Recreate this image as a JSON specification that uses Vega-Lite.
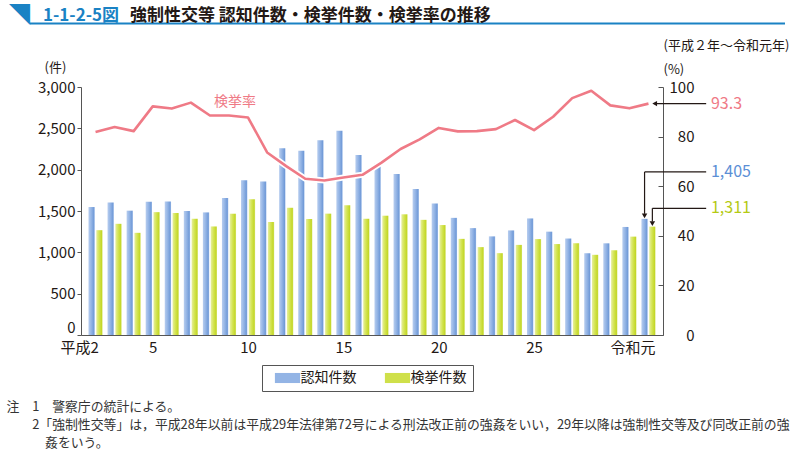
{
  "$schema": "https://vega.github.io/schema/vega-lite/v6.json",
  "width": 582,
  "height": 248,
  "autosize": {"type": "none"},
  "padding": {"left": 81, "top": 87, "right": 127, "bottom": 117},
  "background": "white",
  "config": {
    "view": {"stroke": null},
    "font": "Noto Sans CJK JP"
  },
  "title": {
    "text": "強制性交等 認知件数・検挙件数・検挙率の推移",
    "anchor": "start",
    "frame": "group",
    "dx": 49,
    "offset": -19.5,
    "font": "Noto Sans CJK JP",
    "fontSize": 17,
    "fontWeight": "bold",
    "color": "#231815"
  },
  "data": {
    "values": [
      {"year": 2, "series": "認知件数", "value": 1548},
      {"year": 3, "series": "認知件数", "value": 1603},
      {"year": 4, "series": "認知件数", "value": 1504},
      {"year": 5, "series": "認知件数", "value": 1611},
      {"year": 6, "series": "認知件数", "value": 1616},
      {"year": 7, "series": "認知件数", "value": 1500},
      {"year": 8, "series": "認知件数", "value": 1483},
      {"year": 9, "series": "認知件数", "value": 1657},
      {"year": 10, "series": "認知件数", "value": 1873},
      {"year": 11, "series": "認知件数", "value": 1857},
      {"year": 12, "series": "認知件数", "value": 2260},
      {"year": 13, "series": "認知件数", "value": 2228},
      {"year": 14, "series": "認知件数", "value": 2357},
      {"year": 15, "series": "認知件数", "value": 2472},
      {"year": 16, "series": "認知件数", "value": 2176},
      {"year": 17, "series": "認知件数", "value": 2076},
      {"year": 18, "series": "認知件数", "value": 1948},
      {"year": 19, "series": "認知件数", "value": 1766},
      {"year": 20, "series": "認知件数", "value": 1592},
      {"year": 21, "series": "認知件数", "value": 1417},
      {"year": 22, "series": "認知件数", "value": 1293},
      {"year": 23, "series": "認知件数", "value": 1193},
      {"year": 24, "series": "認知件数", "value": 1265},
      {"year": 25, "series": "認知件数", "value": 1410},
      {"year": 26, "series": "認知件数", "value": 1250},
      {"year": 27, "series": "認知件数", "value": 1167},
      {"year": 28, "series": "認知件数", "value": 989},
      {"year": 29, "series": "認知件数", "value": 1109},
      {"year": 30, "series": "認知件数", "value": 1307},
      {"year": 31, "series": "認知件数", "value": 1405},
      {"year": 2, "series": "検挙件数", "value": 1268},
      {"year": 3, "series": "検挙件数", "value": 1345},
      {"year": 4, "series": "検挙件数", "value": 1236},
      {"year": 5, "series": "検挙件数", "value": 1486},
      {"year": 6, "series": "検挙件数", "value": 1476},
      {"year": 7, "series": "検挙件数", "value": 1406},
      {"year": 8, "series": "検挙件数", "value": 1313},
      {"year": 9, "series": "検挙件数", "value": 1467},
      {"year": 10, "series": "検挙件数", "value": 1643},
      {"year": 11, "series": "検挙件数", "value": 1367},
      {"year": 12, "series": "検挙件数", "value": 1539},
      {"year": 13, "series": "検挙件数", "value": 1403},
      {"year": 14, "series": "検挙件数", "value": 1468},
      {"year": 15, "series": "検挙件数", "value": 1569},
      {"year": 16, "series": "検挙件数", "value": 1406},
      {"year": 17, "series": "検挙件数", "value": 1443},
      {"year": 18, "series": "検挙件数", "value": 1460},
      {"year": 19, "series": "検挙件数", "value": 1393},
      {"year": 20, "series": "検挙件数", "value": 1330},
      {"year": 21, "series": "検挙件数", "value": 1163},
      {"year": 22, "series": "検挙件数", "value": 1063},
      {"year": 23, "series": "検挙件数", "value": 990},
      {"year": 24, "series": "検挙件数", "value": 1090},
      {"year": 25, "series": "検挙件数", "value": 1160},
      {"year": 26, "series": "検挙件数", "value": 1100},
      {"year": 27, "series": "検挙件数", "value": 1110},
      {"year": 28, "series": "検挙件数", "value": 970},
      {"year": 29, "series": "検挙件数", "value": 1025},
      {"year": 30, "series": "検挙件数", "value": 1190},
      {"year": 31, "series": "検挙件数", "value": 1311},
      {"year": 2, "series": "検挙率", "value": 81.9},
      {"year": 3, "series": "検挙率", "value": 83.9},
      {"year": 4, "series": "検挙率", "value": 82.2},
      {"year": 5, "series": "検挙率", "value": 92.2},
      {"year": 6, "series": "検挙率", "value": 91.3},
      {"year": 7, "series": "検挙率", "value": 93.7},
      {"year": 8, "series": "検挙率", "value": 88.5},
      {"year": 9, "series": "検挙率", "value": 88.5},
      {"year": 10, "series": "検挙率", "value": 87.7},
      {"year": 11, "series": "検挙率", "value": 73.6},
      {"year": 12, "series": "検挙率", "value": 68.1},
      {"year": 13, "series": "検挙率", "value": 63.0},
      {"year": 14, "series": "検挙率", "value": 62.3},
      {"year": 15, "series": "検挙率", "value": 63.5},
      {"year": 16, "series": "検挙率", "value": 64.6},
      {"year": 17, "series": "検挙率", "value": 69.5},
      {"year": 18, "series": "検挙率", "value": 75.0},
      {"year": 19, "series": "検挙率", "value": 78.9},
      {"year": 20, "series": "検挙率", "value": 83.5},
      {"year": 21, "series": "検挙率", "value": 82.1},
      {"year": 22, "series": "検挙率", "value": 82.2},
      {"year": 23, "series": "検挙率", "value": 83.0},
      {"year": 24, "series": "検挙率", "value": 86.7},
      {"year": 25, "series": "検挙率", "value": 82.6},
      {"year": 26, "series": "検挙率", "value": 88.0},
      {"year": 27, "series": "検挙率", "value": 95.5},
      {"year": 28, "series": "検挙率", "value": 98.5},
      {"year": 29, "series": "検挙率", "value": 92.6},
      {"year": 30, "series": "検挙率", "value": 91.4},
      {"year": 31, "series": "検挙率", "value": 93.3}
    ]
  },
  "encoding": {
    "x": {
      "field": "year",
      "type": "quantitative",
      "scale": {"domain": [1.5, 31.5], "nice": false, "zero": false},
      "axis": {
        "values": [2.15, 5, 10, 15, 20, 25, 31.35],
        "labelExpr": "datum.value < 3 ? '平成2' : datum.value > 31 ? '令和元' : datum.label",
        "labelAlign": {"condition": {"test": "datum.value < 3 || datum.value > 31", "value": "right"}, "value": "center"},
        "grid": false,
        "ticks": false,
        "domainColor": "#555555",
        "labelFontSize": 15,
        "labelColor": "#231815",
        "labelPadding": 5,
        "title": [
          "注　1　警察庁の統計による。",
          "​　　2「強制性交等」は，平成28年以前は平成29年法律第72号による刑法改正前の強姦をいい，29年以降は強制性交等及び同改正前の強",
          "​　　　姦をいう。"
        ],
        "titleX": -75,
        "titleY": 65.5,
        "titleAnchor": "start",
        "titleAlign": "left",
        "titleBaseline": "top",
        "titleFontSize": 12.85,
        "titleFontWeight": "normal",
        "titleLineHeight": 18,
        "titleColor": "#333333"
      }
    }
  },
  "layer": [
    {
      "encoding": {
        "y": {
          "field": "value",
          "type": "quantitative",
          "stack": null,
          "scale": {"domain": [0, 3000], "nice": false},
          "axis": {
            "values": [0, 500, 1000, 1500, 2000, 2500, 3000],
            "labelExpr": "format(datum.value, ',')",
            "labelBaseline": {"condition": {"test": "datum.value == 0", "value": "bottom"}, "value": "middle"},
            "grid": false,
            "tickSize": 4,
            "tickColor": "#555555",
            "domainColor": "#555555",
            "labelFontSize": 15,
            "labelColor": "#231815",
            "labelPadding": 2,
            "title": "(件)",
            "titleAngle": 0,
            "titleX": -37,
            "titleY": -15.5,
            "titleAlign": "left",
            "titleBaseline": "alphabetic",
            "titleFontSize": 13,
            "titleFontWeight": "normal",
            "titleColor": "#231815"
          }
        }
      },
      "layer": [
        {
          "transform": [{"filter": "datum.year < 0"}],
          "mark": {"type": "bar", "orient": "vertical", "width": 6.3},
          "encoding": {
            "color": {
              "field": "series",
              "type": "nominal",
              "scale": {
                "domain": ["認知件数", "検挙件数"],
                "range": ["#93b4e5", "#cfe04a"]
              },
              "legend": {
                "orient": "none",
                "legendX": 181,
                "legendY": 278,
                "direction": "horizontal",
                "title": null,
                "strokeColor": "#555555",
                "padding": 6,
                "symbolType": "M-1.8,-0.72H1.8V0.72H-1.8Z",
                "symbolSize": 196,
                "symbolOffset": 12.5,
                "symbolStrokeWidth": 0,
                "labelOffset": 6,
                "labelFontSize": 14,
                "labelColor": "#231815",
                "columnPadding": 21
              }
            }
          }
        },
        {
          "transform": [{"filter": "datum.year == 2 && datum.series == '認知件数'"}],
          "mark": {"type": "rule", "color": "#1a82c4", "strokeWidth": 2, "xOffset": -56, "x2Offset": 127, "yOffset": -63.5},
          "encoding": {"x": {"datum": 1.5}, "x2": {"datum": 31.5}, "y": {"datum": 3000}}
        },
        {
          "transform": [{"filter": "datum.year == 2 && datum.series == '認知件数'"}],
          "mark": {"type": "text", "text": "◥", "align": "left", "baseline": "middle", "dx": -77, "dy": -71, "fontSize": 21, "color": "#1a82c4"},
          "encoding": {"x": {"datum": 1.5}, "y": {"datum": 3000}}
        },
        {
          "transform": [{"filter": "datum.year == 2 && datum.series == '認知件数'"}],
          "mark": {"type": "text", "text": "1-1-2-5図", "align": "left", "baseline": "middle", "dx": -43, "dy": -71.5, "fontSize": 17, "fontWeight": "bold", "color": "#1a82c4"},
          "encoding": {"x": {"datum": 1.5}, "y": {"datum": 3000}}
        },
        {
          "transform": [{"filter": "datum.series == '認知件数'"}],
          "mark": {
            "type": "bar", "orient": "vertical", "width": 6.3, "xOffset": -3.9,
            "color": {"gradient": "linear", "x1": 0, "y1": 0, "x2": 1, "y2": 0, "stops": [{"offset": 0, "color": "#b7cdef"}, {"offset": 0.45, "color": "#93b4e5"}, {"offset": 0.85, "color": "#729bd8"}, {"offset": 1, "color": "#9fbde9"}]}
          },
          "encoding": {}
        },
        {
          "transform": [{"filter": "datum.series == '検挙件数'"}],
          "mark": {
            "type": "bar", "orient": "vertical", "width": 6.3, "xOffset": 3.9,
            "color": {"gradient": "linear", "x1": 0, "y1": 0, "x2": 1, "y2": 0, "stops": [{"offset": 0, "color": "#e6ef9e"}, {"offset": 0.45, "color": "#d4e453"}, {"offset": 0.85, "color": "#c3d728"}, {"offset": 1, "color": "#dbe77c"}]}
          },
          "encoding": {}
        },
        {
          "transform": [{"filter": "datum.year == 31 && datum.series == '認知件数'"}],
          "mark": {"type": "rule", "color": "#231815", "strokeWidth": 1.2, "xOffset": -3.9, "yOffset": -5, "y2Offset": -46.9},
          "encoding": {"y2": {"field": "value"}}
        },
        {
          "transform": [{"filter": "datum.year == 31 && datum.series == '認知件数'"}],
          "mark": {"type": "rule", "color": "#231815", "strokeWidth": 1.2, "xOffset": -3.9, "x2Offset": 57.7, "yOffset": -46.9},
          "encoding": {"x2": {"field": "year"}}
        },
        {
          "transform": [{"filter": "datum.year == 31 && datum.series == '認知件数'"}],
          "mark": {"type": "point", "shape": "triangle-down", "filled": true, "opacity": 1, "size": 30, "color": "#231815", "xOffset": -3.9, "yOffset": -3},
          "encoding": {}
        },
        {
          "transform": [{"filter": "datum.year == 31 && datum.series == '認知件数'"}],
          "mark": {"type": "text", "align": "left", "baseline": "middle", "dx": 62.5, "dy": -46.9, "fontSize": 16, "color": "#5b8fd6"},
          "encoding": {"text": {"field": "value", "format": ","}}
        },
        {
          "transform": [{"filter": "datum.year == 31 && datum.series == '検挙件数'"}],
          "mark": {"type": "rule", "color": "#231815", "strokeWidth": 1.2, "xOffset": 3.9, "yOffset": -5, "y2Offset": -18.3},
          "encoding": {"y2": {"field": "value"}}
        },
        {
          "transform": [{"filter": "datum.year == 31 && datum.series == '検挙件数'"}],
          "mark": {"type": "rule", "color": "#231815", "strokeWidth": 1.2, "xOffset": 3.9, "x2Offset": 57.7, "yOffset": -18.3},
          "encoding": {"x2": {"field": "year"}}
        },
        {
          "transform": [{"filter": "datum.year == 31 && datum.series == '検挙件数'"}],
          "mark": {"type": "point", "shape": "triangle-down", "filled": true, "opacity": 1, "size": 30, "color": "#231815", "xOffset": 3.9, "yOffset": -3},
          "encoding": {}
        },
        {
          "transform": [{"filter": "datum.year == 31 && datum.series == '検挙件数'"}],
          "mark": {"type": "text", "align": "left", "baseline": "middle", "dx": 62.5, "dy": -18.3, "fontSize": 16, "color": "#b4ca14"},
          "encoding": {"text": {"field": "value", "format": ","}}
        }
      ]
    },
    {
      "transform": [{"filter": "datum.series == '検挙率'"}],
      "encoding": {
        "y": {
          "field": "value",
          "type": "quantitative",
          "scale": {"domain": [0, 100], "nice": false},
          "axis": {
            "orient": "right",
            "values": [0, 20, 40, 60, 80, 100],
            "grid": false,
            "tickSize": -5,
            "tickColor": "#555555",
            "domainColor": "#555555",
            "labelFontSize": 15,
            "labelColor": "#231815",
            "labelAlign": "right",
            "labelPadding": 36,
            "title": ["(平成２年～令和元年)", " (%)"],
            "titleAngle": 0,
            "titleX": 0,
            "titleY": -38,
            "titleAlign": "left",
            "titleBaseline": "alphabetic",
            "titleFontSize": 13,
            "titleFontWeight": "normal",
            "titleLineHeight": 24,
            "titleColor": "#231815"
          }
        }
      },
      "layer": [
        {
          "mark": {"type": "line", "color": "white", "strokeWidth": 6, "strokeJoin": "round"},
          "encoding": {}
        },
        {
          "mark": {"type": "line", "color": "#ef7a86", "strokeWidth": 2.6, "strokeJoin": "round"},
          "encoding": {}
        },
        {
          "transform": [{"filter": "datum.year == 9"}],
          "mark": {"type": "text", "align": "center", "baseline": "middle", "dx": 6, "dy": -14, "fontSize": 14, "color": "#ef7a86"},
          "encoding": {"text": {"field": "series"}}
        },
        {
          "transform": [{"filter": "datum.year == 31"}],
          "mark": {"type": "rule", "color": "#231815", "strokeWidth": 1.2, "xOffset": 6, "x2Offset": 57.7},
          "encoding": {"x2": {"field": "year"}}
        },
        {
          "transform": [{"filter": "datum.year == 31"}],
          "mark": {"type": "point", "shape": "triangle-left", "filled": true, "opacity": 1, "size": 30, "color": "#231815", "xOffset": 6.2},
          "encoding": {}
        },
        {
          "transform": [{"filter": "datum.year == 31"}],
          "mark": {"type": "text", "align": "left", "baseline": "middle", "dx": 62.5, "fontSize": 16, "color": "#ef7a86"},
          "encoding": {"text": {"field": "value", "format": ".1f"}}
        }
      ]
    }
  ],
  "resolve": {"scale": {"y": "independent"}}
}
